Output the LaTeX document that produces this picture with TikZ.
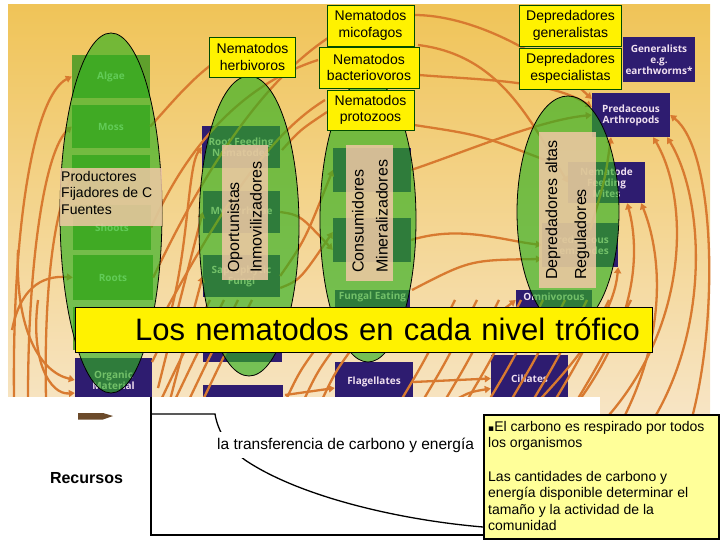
\documentclass[tikz,border=0pt]{standalone}
\usepackage{fontspec}
\setmainfont{Liberation Sans}
\newfontfamily\boxfont{Open Sans}
\newfontfamily\symbfont{DejaVu Sans}
\usetikzlibrary{arrows.meta,positioning}

\definecolor{bgtop}{HTML}{F0C458}
\definecolor{bgmid}{HTML}{F5D896}
\definecolor{bgbot}{HTML}{F7E5C6}
\definecolor{weborange}{HTML}{D87A30}
\definecolor{plantgreen}{HTML}{5FA02C}
\definecolor{organpurple}{HTML}{2E1C70}
\definecolor{ovalgreen}{HTML}{30B020}
\definecolor{tanfill}{HTML}{F0C8A5}
\definecolor{notefill}{HTML}{FFFF99}
\definecolor{arrowbrown}{HTML}{6B4A2A}
\tikzset{
  plantbox/.style={fill=plantgreen,text=green!25!white,font=\boxfont\bfseries\fontsize{10}{11}\selectfont,align=center,inner sep=0pt},
  orgbox/.style={fill=organpurple,text=violet!12!white,font=\boxfont\bfseries\fontsize{10}{11}\selectfont,align=center,inner sep=0pt},
  boxtext/.style={text=violet!12!white,font=\boxfont\bfseries\fontsize{10}{11}\selectfont,inner sep=1pt},
  web/.style={draw=weborange,line width=2.3pt,-{Triangle[width=7pt,length=6pt]}},
  webline/.style={draw=weborange,line width=2.3pt},
  level/.style={fill=ovalgreen,fill opacity=0.65,draw=black,line width=0.8pt},
  tanbox/.style={fill=tanfill,fill opacity=0.85,draw=none},
  tantext/.style={font=\fontsize{16}{18}\selectfont,rotate=90,anchor=west,inner sep=0pt},
  nemalabel/.style={fill=yellow,draw=green!30!black,line width=0.8pt,align=center,inner sep=0pt,font=\fontsize{14}{16.5}\selectfont},
  titlebar/.style={fill=yellow,draw=black,line width=0.8pt},
  axis/.style={draw=black,line width=1.3pt}
}

\begin{document}
\begin{tikzpicture}[x=1pt,y=-1pt]
  \useasboundingbox (0,0) rectangle (720,540);
  \shade[top color=bgtop,middle color=bgmid,bottom color=bgbot] (8,5) rectangle (710,420);

  % food web boxes
  \node[plantbox,minimum width=78,minimum height=43] (algae) at (111,76.5) {Algae};
  \node[plantbox,minimum width=78,minimum height=43] (moss) at (111,126.5) {Moss};
  \node[plantbox,minimum width=78,minimum height=43] (lichens) at (111,176.5) {};
  \node[plantbox,minimum width=78,minimum height=45] (shoots) at (112,227.5) {Shoots};
  \node[plantbox,minimum width=80,minimum height=45] (roots) at (113,277.5) {Roots};
  \node[plantbox,minimum width=80,minimum height=43] (inorganic) at (113,328.5) {};
  \node[orgbox,minimum width=77,minimum height=44] (organic) at (113.5,380) {Organic\\Material};
  \node[orgbox,minimum width=78,minimum height=42] (rootfeed) at (241,147) {Root Feeding\\Nematodes};
  \node[orgbox,minimum width=77,minimum height=42] (mycorr) at (241.5,212) {Mycorrhizae};
  \node[orgbox,minimum width=77,minimum height=42] (sapro) at (241.5,276) {Saprophytic\\Fungi};
  \node[orgbox,minimum width=79,minimum height=44] (bact) at (242.5,340) {};
  \node[orgbox,minimum width=80,minimum height=20] (lowbox) at (243,395) {};
  \node[orgbox,minimum width=78,minimum height=44] (c3a) at (372,170) {};
  \node[orgbox,minimum width=78,minimum height=44] (c3b) at (372,240) {};
  \node[orgbox,minimum width=75,minimum height=44] (fungal) at (372.5,312) {};
  \node[boxtext,below=1pt of fungal.north] (fungaltxt) {Fungal Eating};
  \node[orgbox,minimum width=78,minimum height=40] (flag) at (374,382) {Flagellates};
  \node[orgbox,minimum width=77,minimum height=47] (cil) at (529.5,378.5) {Ciliates};
  \node[orgbox,minimum width=76,minimum height=42] (omni) at (554,311) {};
  \node[boxtext,below=2pt of omni.north] (omnitxt) {Omnivorous};
  \node[orgbox,minimum width=72,minimum height=45] (general) at (659,59.5) {Generalists\\e.g.\\earthworms*};
  \node[orgbox,minimum width=78,minimum height=44] (predarth) at (631,115) {Predaceous\\Arthropods};
  \node[orgbox,minimum width=77,minimum height=41] (mites) at (606.5,182.5) {Nematode\\Feeding\\Mites};
  \node[orgbox,minimum width=76,minimum height=44] (prednem) at (580,245) {Predaceous\\Nematodes};

  % web arrows
  \coordinate (l1) at (14,398);
  \coordinate (l2) at (28,398);
  \coordinate (l3) at (46,398);
  \coordinate (l4) at (18,250);
  \coordinate (l5) at (38,300);
  \coordinate (l6) at (12,330);
  \draw[web] (l1) .. controls (12,220) and (35,95) .. (algae.west);
  \draw[web] (l2) .. controls (28,260) and (45,150) .. (moss.west);
  \draw[web] (l3) .. controls (44,300) and (52,220) .. (lichens.west);
  \draw[web] (l4) .. controls (15,330) and (40,372) .. (organic.west);
  \draw[web] (l5) .. controls (30,360) and (50,395) .. ([yshift=-13pt]organic.west);
  \draw[web] (l6) .. controls (20,290) and (40,275) .. (roots.west);
  \coordinate (u1) at (328,38);
  \coordinate (u2) at (318,60);
  \coordinate (u3) at (325,100);
  \coordinate (u4) at (215,62);
  \coordinate (u5) at (152,362);
  \coordinate (u6) at (158,388);
  \coordinate (u7) at (170,400);
  \coordinate (u8) at (155,330);
  \draw[webline] (roots.east) .. controls (190,200) and (250,90) .. (u1);
  \draw[webline] (shoots.east) .. controls (185,150) and (240,85) .. (u2);
  \draw[webline] (u8) .. controls (210,230) and (260,140) .. (u3);
  \draw[webline] (moss.east) .. controls (170,105) and (190,80) .. (u4);
  \draw[web] (u5) .. controls (190,290) and (185,170) .. (rootfeed.west);
  \draw[web] (u6) .. controls (180,300) .. (mycorr.west);
  \draw[web] (u7) .. controls (185,340) .. (sapro.west);
  \coordinate (x1) at (282,150);
  \coordinate (x2) at (327,112);
  \draw[web] (mycorr.east) .. controls (300,215) .. ([yshift=-10pt]c3b.west);
  \draw[web] (sapro.east) .. controls (305,240) .. (c3a.west);
  \draw[web] ([yshift=-12pt]sapro.east) .. controls (300,280) .. ([yshift=8pt]c3b.west);
  \draw[webline] (x1) .. controls (300,130) .. (x2);
  \draw[web] (bact.east) .. controls (305,320) .. (fungal.west);
  \coordinate (mico) at (414,15);
  \coordinate (bacter) at (419,75);
  \coordinate (r1) at (418,45);
  \coordinate (r2) at (414,125);
  \coordinate (r3) at (412,290);
  \draw[web] (c3a.east) .. controls (470,150) and (540,120) .. (predarth.west);
  \draw[web] (c3b.east) .. controls (460,225) and (500,240) .. (prednem.west);
  \draw[web] (bacter) .. controls (480,80) and (550,80) .. ([yshift=8pt]predarth.west);
  \draw[web] (mico) .. controls (470,15) and (540,50) .. ([yshift=16pt]predarth.west);
  \draw[web] (r1) .. controls (500,55) and (530,120) .. (mites.west);
  \draw[webline] (r2) .. controls (480,135) .. (545,160);
  \draw[web] (r3) .. controls (470,260) .. ([yshift=-14pt]prednem.west);
  \coordinate (R1) at (600,425);
  \coordinate (R2) at (650,425);
  \coordinate (R3) at (690,425);
  \coordinate (R4) at (560,425);
  \coordinate (R5) at (620,425);
  \coordinate (R6) at (520,420);
  \coordinate (R7) at (590,230);
  \draw[web] (R1) .. controls (690,330) and (690,200) .. ([xshift=-17pt]predarth.south east);
  \draw[web] (R2) .. controls (710,330) and (705,200) .. ([xshift=-3pt]predarth.south east);
  \draw[web] (R3) .. controls (720,320) and (715,150) .. (predarth.east);
  \draw[web] (R4) .. controls (640,330) and (640,250) .. ([xshift=-18pt]mites.south east);
  \draw[web] (R5) .. controls (670,330) and (660,250) .. ([xshift=-4pt]mites.south east);
  \draw[web] (R6) .. controls (600,340) and (615,300) .. (prednem.south east);
  \draw[web] (R7) .. controls (605,180) .. ([xshift=-20pt]predarth.south);
  \foreach \s in {0,1,...,8}
    \draw[webline] ({400+22*\s},402) .. controls ({425+22*\s},360) .. ({455+22*\s},300);
  \foreach \s in {0,1,2,3}
    \draw[webline] ({160+14*\s},402) .. controls ({180+14*\s},360) .. ({210+14*\s},300);
  \foreach \s in {0,1,2}
    \draw[webline] ({285+18*\s},402) .. controls ({300+18*\s},370) .. ({330+18*\s},330);
  \coordinate (f1) at (285,395);
  \coordinate (f2) at (455,400);
  \coordinate (o1) at (470,335);
  \draw[web] (f1) -- ([yshift=-6pt]flag.west);
  \draw[web] (flag.east) -- (cil.west);
  \draw[web] (f2) .. controls (470,392) .. ([yshift=-10pt]cil.west);
  \draw[web] (o1) -- ([yshift=11pt]omni.west);

  % trophic levels
  \draw[level] (111,213) ellipse [x radius=51,y radius=180];
  \draw[level] (249,226) ellipse [x radius=50,y radius=150];
  \draw[level] (368,220) ellipse [x radius=48,y radius=142];
  \draw[level] (568,212) ellipse [x radius=51,y radius=116];
  \fill[tanbox] (60,168) rectangle (162,226);
  \fill[tanbox] (222,145) rectangle (268,280);
  \fill[tanbox] (346,145) rectangle (393,281);
  \fill[tanbox] (539,132) rectangle (596,288);
  \node[align=left,anchor=north west,inner sep=0pt,font=\fontsize{14}{16.5}\selectfont] (productores) at (61,171) {Productores\\Fijadores de C\\Fuentes};
  \node[tantext] (oport) at (235,273) {Oportunistas};
  \node[tantext] (inmov) at (256,273) {Inmovilizadores};
  \node[tantext] (consum) at (358,273) {Consumidores};
  \node[tantext] (mineral) at (382,273) {Mineralizadores};
  \node[tantext] (depalt) at (553,280) {Depredadores altas};
  \node[tantext] (regul) at (582,280) {Reguladores};

  \node[nemalabel,minimum width=86,minimum height=40] (herbivoros) at (252.5,57) {Nematodos\\herbivoros};
  \node[nemalabel,minimum width=87,minimum height=41] (micofagos) at (370.5,25.5) {Nematodos\\micofagos};
  \node[nemalabel,minimum width=100,minimum height=41] (bacterio) at (369,67.5) {Nematodos\\bacteriovoros};
  \node[nemalabel,minimum width=87,minimum height=40] (protozoos) at (370.5,110) {Nematodos\\protozoos};
  \node[nemalabel,minimum width=102,minimum height=41] (generalistas) at (570.5,25.5) {Depredadores\\generalistas};
  \node[nemalabel,minimum width=102,minimum height=41] (especialistas) at (570.5,68.5) {Depredadores\\especialistas};
  \node[titlebar,minimum width=577,minimum height=45,text width=553,inner xsep=12pt,align=right,font=\fontsize{31}{36}\selectfont] (title) at (363.5,329.5) {Los nematodos en cada nivel trófico};

  % resources chart
  \fill[white] (0,397) rectangle (600,540);
  \fill[arrowbrown] (78,413) -- (103,413) -- (113,416) -- (103,419.5) -- (78,419.5) -- cycle;
  \node[font=\bfseries\fontsize{16}{18}\selectfont,inner sep=0pt] (recursos) at (86.5,478) {Recursos};
  \coordinate (ytop) at (151,397);
  \coordinate (origin) at (151,535);
  \coordinate (xend) at (483,535);
  \coordinate (stepstart) at (151,414);
  \coordinate (stepend) at (215,414);
  \coordinate (curveend) at (483,527);
  \draw[axis] (ytop) -- (origin) -- (xend);
  \draw[axis] (stepstart) -- (stepend) .. controls (218,432) and (228,447) .. (245,460) .. controls (300,497) and (400,520) .. (curveend);
  \node[fill=white,inner xsep=1pt,inner ysep=6pt,anchor=west,font=\fontsize{15.5}{18}\selectfont] (transfer) at (216,445) {la transferencia de carbono y energía};

  \node[draw=black,line width=1.5pt,fill=notefill,minimum width=235,minimum height=124,anchor=north west] (note) at (483,414) {};
  \node[anchor=north west,align=left,inner sep=0pt,font=\fontsize{14}{16.6}\selectfont] (notetext) at (488,421) {{\symbfont\fontsize{9}{9}\selectfont ▪}El carbono es respirado por todos\\los organismos\\[16.6pt]Las cantidades de carbono y\\energía disponible determinar el\\tamaño y la actividad de la\\comunidad};
\end{tikzpicture}
\end{document}
